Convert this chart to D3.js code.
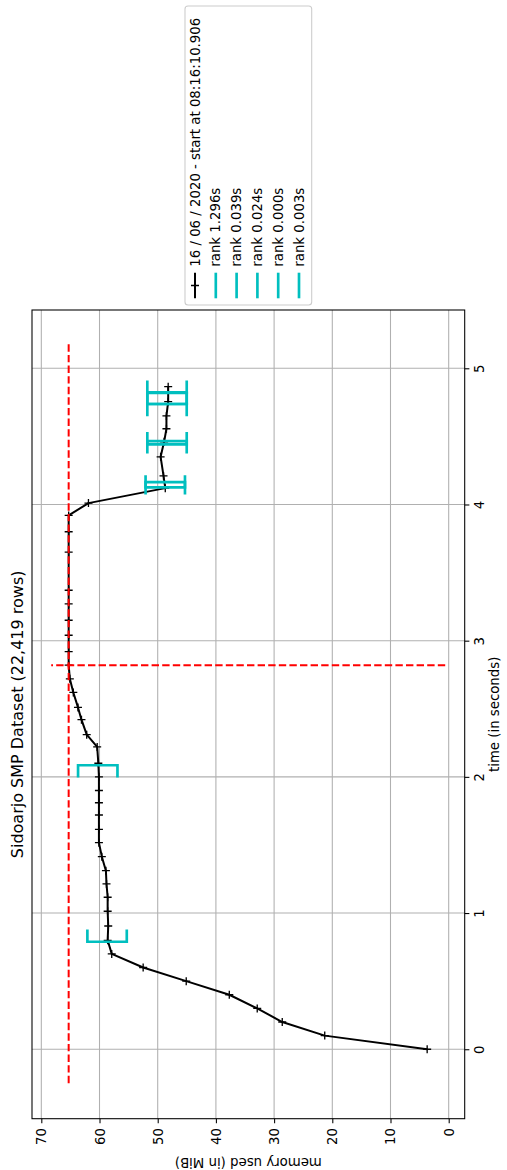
<!DOCTYPE html>
<html>
<head>
<meta charset="utf-8">
<script src="https://cdn.jsdelivr.net/npm/d3@7"></script>
<style>
  html, body { margin: 0; padding: 0; background: #fff; }
  svg { display: block; }
  text { font-family: "DejaVu Sans", sans-serif; fill: #000; }
</style>
</head>
<body>
<svg id="chart" width="507" height="1170"></svg>
<script>
// ---------- DATA ----------
const titleText = "Sidoarjo SMP Dataset (22,419 rows)";
const xLabelText = "time (in seconds)";
const yLabelText = "memory used (in MiB)";

// memory trace: time (s) and memory (MiB)
const times = [0.00, 0.10, 0.20, 0.30, 0.40, 0.50, 0.60, 0.70, 0.80, 0.905,
               1.013, 1.116, 1.214, 1.311, 1.414, 1.517, 1.615, 1.72, 1.81, 1.90,
               2.00, 2.10, 2.22, 2.31, 2.42, 2.51, 2.62, 2.72, 2.82, 2.92,
               3.04, 3.15, 3.27, 3.37, 3.65, 3.80, 3.92, 4.01, 4.12, 4.21,
               4.35, 4.46, 4.556, 4.65, 4.755, 4.865];
const memory = [3.7, 21.3, 28.6, 32.9, 37.7, 45.1, 52.5, 57.9, 58.6, 58.5,
                58.6, 58.6, 58.8, 58.9, 59.6, 60.1, 60.1, 60.1, 60.1, 60.1,
                60.1, 60.2, 60.4, 62.2, 63.1, 63.7, 64.5, 65.1, 65.3, 65.3,
                65.3, 65.3, 65.3, 65.3, 65.3, 65.3, 65.3, 61.9, 48.7, 49.0,
                49.5, 48.9, 48.5, 48.5, 48.2, 48.2];

// function executions (rank): start/end time, memory at start/end
const execStart = [0.789, 4.125, 4.441, 4.738, 4.820];
const execEnd   = [2.085, 4.164, 4.465, 4.738, 4.823];
const execMemStart = [58.7, 48.7, 48.4, 48.4, 48.4];
const execMemEnd   = [60.3, 48.7, 48.4, 48.4, 48.4];

const legendLabels = ["16 / 06 / 2020 - start at 08:16:10.906",
                      "rank 1.296s", "rank 0.039s", "rank 0.024s", "rank 0.000s", "rank 0.003s"];

const memTicks = [0, 10, 20, 30, 40, 50, 60, 70];
const timeTicks = [0, 1, 2, 3, 4, 5];

// axis limits (matplotlib autoscaled)
const timeDomain = [-0.51, 5.428];
const memDomain = [71.6, -2.75];
// inner limits used by max-memory markers and bracket sizes
const innerTime = [-0.25, 5.18];
const innerMem = [0.6, 68.3];

// ---------- LAYOUT ----------
const plotLeft = 32, plotRight = 464.7, plotTop = 310, plotBottom = 1118.7;
const svg = d3.select("#chart");

const yT = d3.scaleLinear().domain(timeDomain).range([plotBottom, plotTop]);
const xM = d3.scaleLinear().domain(memDomain).range([plotLeft, plotRight]);

const cyan = "#00bfbf";
const grid = svg.append("g");
grid.selectAll("line.v").data(memTicks).enter().append("line")
  .attr("x1", d => xM(d)).attr("x2", d => xM(d))
  .attr("y1", plotTop).attr("y2", plotBottom)
  .attr("stroke", "#b0b0b0").attr("stroke-width", 1.07);
grid.selectAll("line.h").data(timeTicks).enter().append("line")
  .attr("y1", d => yT(d)).attr("y2", d => yT(d))
  .attr("x1", plotLeft).attr("x2", plotRight)
  .attr("stroke", "#b0b0b0").attr("stroke-width", 1.07);

const clip = svg.append("clipPath").attr("id", "clip").append("rect")
  .attr("x", plotLeft).attr("y", plotTop)
  .attr("width", plotRight - plotLeft).attr("height", plotBottom - plotTop);
const plot = svg.append("g").attr("clip-path", "url(#clip)");

// memory line
const pts = times.map((t, i) => [t, memory[i]]);
const line = d3.line().x(d => xM(d[1])).y(d => yT(d[0]));
plot.append("path").datum(pts).attr("d", line)
  .attr("fill", "none").attr("stroke", "#000").attr("stroke-width", 2)
  .attr("stroke-linejoin", "round");
const ms = 4;
plot.selectAll("path.mk").data(pts).enter().append("path")
  .attr("d", d => {
    const x = xM(d[1]), y = yT(d[0]);
    return `M${x - ms},${y}H${x + ms}M${x},${y - ms}V${y + ms}`;
  })
  .attr("stroke", "#000").attr("stroke-width", 1.33).attr("fill", "none");

// brackets
const vsize = (innerMem[1] - innerMem[0]) / 20;
const hsize = (innerTime[1] - innerTime[0]) / 60;
const bline = d3.line().x(d => xM(d[1])).y(d => yT(d[0]));
execStart.forEach((ts, i) => {
  const te = execEnd[i], m0 = execMemStart[i], m1 = execMemEnd[i];
  const open = [[ts + hsize, m0 + vsize], [ts, m0 + vsize], [ts, m0 - vsize], [ts + hsize, m0 - vsize]];
  const close = [[te - hsize, m1 + vsize], [te, m1 + vsize], [te, m1 - vsize], [te - hsize, m1 - vsize]];
  [open, close].forEach(b => {
    plot.append("path").attr("d", bline(b)).attr("fill", "none")
      .attr("stroke", cyan).attr("stroke-width", 2.67);
  });
});

// max memory markers
const maxMem = d3.max(memory);
const maxT = times[memory.indexOf(maxMem)];
plot.append("line")
  .attr("x1", xM(maxMem)).attr("x2", xM(maxMem))
  .attr("y1", yT(innerTime[0] + 0.001)).attr("y2", yT(innerTime[1] - 0.001))
  .attr("stroke", "#ff0000").attr("stroke-width", 2).attr("stroke-dasharray", "7.4,3.2");
plot.append("line")
  .attr("y1", yT(maxT)).attr("y2", yT(maxT))
  .attr("x1", xM(innerMem[0])).attr("x2", xM(innerMem[1]))
  .attr("stroke", "#ff0000").attr("stroke-width", 2).attr("stroke-dasharray", "7.4,3.2");

// frame
svg.append("rect").attr("x", plotLeft).attr("y", plotTop)
  .attr("width", plotRight - plotLeft).attr("height", plotBottom - plotTop)
  .attr("fill", "none").attr("stroke", "#000").attr("stroke-width", 1.07);

// memory axis (bottom)
const tickLen = 4.67, tickPad = 4.67, fs = 13.3;
const axB = svg.append("g").attr("transform", `translate(0,${plotBottom})`)
  .call(d3.axisBottom(xM).tickValues(memTicks).tickSize(tickLen).tickFormat(d3.format("d")));
axB.select(".domain").remove();
axB.selectAll(".tick line").attr("stroke", "#000").attr("stroke-width", 1.07);
axB.selectAll(".tick text")
  .attr("x", 0).attr("y", 0).attr("dy", null)
  .attr("transform", `translate(0,${tickLen + tickPad}) rotate(-90)`)
  .attr("text-anchor", "end").attr("dominant-baseline", "central")
  .style("font-size", fs + "px").style("font-family", "DejaVu Sans");

// time axis (right)
const axR = svg.append("g").attr("transform", `translate(${plotRight},0)`)
  .call(d3.axisRight(yT).tickValues(timeTicks).tickSize(tickLen).tickFormat(d3.format("d")));
axR.select(".domain").remove();
axR.selectAll(".tick line").attr("stroke", "#000").attr("stroke-width", 1.07);
axR.selectAll(".tick text")
  .attr("x", 0).attr("y", 0).attr("dy", "0.73em")
  .attr("transform", `translate(${tickLen + tickPad},0) rotate(-90)`)
  .attr("text-anchor", "middle").attr("dominant-baseline", null)
  .style("font-size", fs + "px").style("font-family", "DejaVu Sans");

const cy = (plotTop + plotBottom) / 2, cx = (plotLeft + plotRight) / 2;
// title
svg.append("text").attr("transform", `translate(23,${cy}) rotate(-90)`)
  .attr("text-anchor", "middle").style("font-size", "16px").text(titleText);
// x (time) label
svg.append("text").attr("transform", `translate(489,${cy}) rotate(-90)`)
  .attr("dy", "0.76em").attr("text-anchor", "middle").style("font-size", fs + "px").text(xLabelText);
// y (memory) label
svg.append("text").attr("transform", `translate(${cx},1158) rotate(180)`)
  .attr("text-anchor", "middle").style("font-size", fs + "px").text(yLabelText);

// legend
const lg = svg.append("g");
lg.append("rect").attr("x", 185).attr("y", 6).attr("width", 126.7).attr("height", 299)
  .attr("rx", 3).attr("fill", "#fff").attr("fill-opacity", 0.8)
  .attr("stroke", "#cccccc").attr("stroke-width", 1.07);
const rowX0 = 195, rowDX = 20.8, hY0 = 298.3, hY1 = 272.7, textY = 266.7;
legendLabels.forEach((lab, i) => {
  const x = rowX0 + i * rowDX;
  const col = i === 0 ? "#000" : cyan;
  lg.append("line").attr("x1", x).attr("x2", x).attr("y1", hY0).attr("y2", hY1)
    .attr("stroke", col).attr("stroke-width", i === 0 ? 2 : 2.67);
  if (i === 0) {
    const my = (hY0 + hY1) / 2;
    lg.append("path").attr("d", `M${x - ms},${my}H${x + ms}M${x},${my - ms}V${my + ms}`)
      .attr("stroke", "#000").attr("stroke-width", 1.33);
  }
  lg.append("text").attr("transform", `translate(${x},${textY}) rotate(-90)`)
    .attr("dominant-baseline", "central").style("font-size", fs + "px").text(lab);
});
</script>
</body>
</html>
